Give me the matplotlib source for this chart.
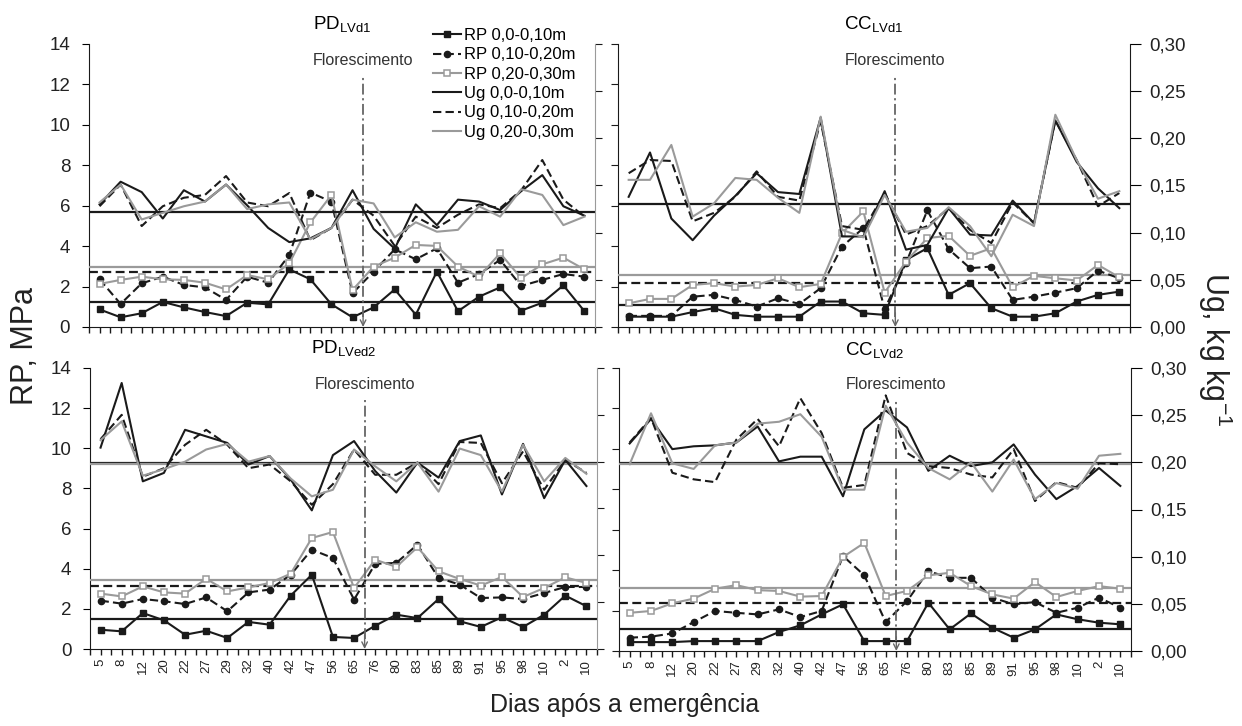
import matplotlib
matplotlib.use('Agg')
from matplotlib import pyplot as plt
from matplotlib.ticker import MultipleLocator, FuncFormatter, NullFormatter
import numpy as np

plt.rcParams['font.family'] = ['Liberation Sans', 'DejaVu Sans']
plt.rcParams['mathtext.fontset'] = 'custom'
plt.rcParams['mathtext.rm'] = 'Liberation Sans'
plt.rcParams['mathtext.it'] = 'Liberation Sans:italic'

# dias apos a emergencia (rotulos do eixo x, como aparecem no grafico)
dias = ['5', '8', '12', '20', '22', '27', '29', '32', '40', '42', '47', '56',
        '65', '76', '80', '83', '85', '89', '91', '95', '98', '10', '2', '10']

# PD LVd1 - RP em MPa, Ug em kg/kg
pd1_rp1 = [0.87, 0.48, 0.68, 1.24, 0.97, 0.74, 0.54, 1.20, 1.12, 2.85, 2.36, 1.12, 0.48, 0.97, 1.86, 0.61, 2.74, 0.78, 1.50, 1.96, 0.81, 1.20, 2.06, 0.78]
pd1_rp2 = [2.36, 1.14, 2.16, 2.49, 2.08, 1.96, 1.34, 2.49, 2.19, 3.56, 6.65, 6.20, 1.67, 2.74, 3.84, 3.35, 3.89, 2.19, 2.62, 3.32, 2.03, 2.33, 2.62, 2.49]
pd1_rp3 = [2.13, 2.33, 2.49, 2.36, 2.33, 2.19, 1.86, 2.57, 2.36, 3.15, 5.17, 6.53, 1.83, 2.99, 3.43, 4.06, 4.01, 2.99, 2.49, 3.65, 2.41, 3.10, 3.43, 2.85]
pd1_ug1 = [0.130, 0.154, 0.143, 0.115, 0.145, 0.133, 0.151, 0.129, 0.105, 0.090, 0.094, 0.105, 0.145, 0.104, 0.083, 0.130, 0.108, 0.135, 0.133, 0.124, 0.144, 0.161, 0.128, 0.118]
pd1_ug2 = [0.128, 0.151, 0.107, 0.128, 0.137, 0.140, 0.160, 0.132, 0.128, 0.142, 0.092, 0.105, 0.135, 0.118, 0.086, 0.117, 0.105, 0.119, 0.130, 0.126, 0.145, 0.177, 0.135, 0.117]
pd1_ug3 = [0.132, 0.151, 0.114, 0.121, 0.128, 0.133, 0.151, 0.125, 0.130, 0.132, 0.093, 0.105, 0.135, 0.131, 0.095, 0.111, 0.101, 0.103, 0.128, 0.117, 0.146, 0.140, 0.108, 0.117]
pd1_med_rp = [1.24, 2.74, 2.99]
pd1_med_ug = [0.122]

# CC LVd1
cc1_rp1 = [0.51, 0.51, 0.51, 0.74, 0.93, 0.60, 0.51, 0.51, 0.51, 1.26, 1.26, 0.68, 0.60, 3.32, 3.90, 1.59, 2.17, 0.93, 0.51, 0.51, 0.68, 1.26, 1.59, 1.75]
cc1_rp2 = [0.55, 0.55, 0.55, 1.50, 1.59, 1.34, 1.01, 1.42, 1.14, 1.92, 3.98, 4.89, 0.88, 3.16, 5.77, 3.85, 2.91, 2.99, 1.34, 1.50, 1.70, 1.92, 2.79, 2.41]
cc1_rp3 = [1.17, 1.39, 1.39, 2.08, 2.17, 2.00, 2.08, 2.41, 1.97, 2.13, 4.64, 5.72, 1.70, 3.24, 4.40, 4.51, 3.52, 3.90, 1.97, 2.53, 2.41, 2.30, 3.07, 2.46]
cc1_ug1 = [0.138, 0.185, 0.115, 0.092, 0.118, 0.139, 0.163, 0.143, 0.141, 0.222, 0.096, 0.096, 0.144, 0.082, 0.087, 0.126, 0.098, 0.097, 0.134, 0.110, 0.219, 0.175, 0.147, 0.126]
cc1_ug2 = [0.163, 0.177, 0.176, 0.112, 0.121, 0.138, 0.165, 0.138, 0.134, 0.218, 0.107, 0.103, 0.142, 0.098, 0.107, 0.126, 0.103, 0.089, 0.132, 0.110, 0.219, 0.177, 0.128, 0.142]
cc1_ug3 = [0.156, 0.156, 0.193, 0.117, 0.131, 0.158, 0.156, 0.137, 0.121, 0.223, 0.103, 0.095, 0.140, 0.101, 0.105, 0.127, 0.107, 0.075, 0.119, 0.107, 0.225, 0.177, 0.136, 0.144]
cc1_med_rp = [1.09, 2.17, 2.58]
cc1_med_ug = [0.130]

# PD LVed2
pd2_rp1 = [0.96, 0.88, 1.79, 1.43, 0.71, 0.91, 0.55, 1.35, 1.21, 2.66, 3.70, 0.60, 0.55, 1.16, 1.71, 1.54, 2.49, 1.38, 1.10, 1.58, 1.10, 1.71, 2.66, 2.13]
pd2_rp2 = [2.41, 2.26, 2.49, 2.38, 2.24, 2.57, 1.88, 2.82, 2.96, 3.70, 4.95, 4.53, 2.46, 4.24, 4.29, 5.20, 3.54, 3.21, 2.54, 2.57, 2.49, 2.79, 3.09, 3.09]
pd2_rp3 = [2.76, 2.62, 3.12, 2.82, 2.76, 3.50, 2.87, 3.07, 3.29, 3.75, 5.53, 5.83, 3.04, 4.45, 4.09, 5.07, 3.87, 3.49, 3.16, 3.59, 2.59, 3.04, 3.57, 3.29]
pd2_ug1 = [0.215, 0.284, 0.179, 0.188, 0.234, 0.227, 0.220, 0.197, 0.206, 0.181, 0.148, 0.207, 0.222, 0.190, 0.167, 0.199, 0.183, 0.222, 0.228, 0.165, 0.219, 0.161, 0.202, 0.174]
pd2_ug2 = [0.224, 0.250, 0.184, 0.193, 0.218, 0.234, 0.218, 0.193, 0.197, 0.179, 0.154, 0.176, 0.213, 0.186, 0.186, 0.199, 0.176, 0.221, 0.220, 0.177, 0.211, 0.170, 0.202, 0.188]
pd2_ug3 = [0.223, 0.243, 0.185, 0.192, 0.200, 0.213, 0.219, 0.200, 0.206, 0.182, 0.163, 0.170, 0.213, 0.195, 0.179, 0.199, 0.168, 0.214, 0.207, 0.168, 0.218, 0.179, 0.204, 0.187]
pd2_med_rp = [1.50, 3.12, 3.46]
pd2_med_ug = [0.199, 0.198]

# CC LVd2
cc2_rp1 = [0.44, 0.44, 0.44, 0.49, 0.49, 0.49, 0.49, 0.94, 1.27, 1.81, 2.31, 0.49, 0.49, 0.49, 2.39, 1.07, 1.86, 1.15, 0.66, 1.07, 1.81, 1.57, 1.40, 1.32]
cc2_rp2 = [0.66, 0.71, 0.87, 1.43, 1.98, 1.89, 1.81, 2.06, 1.68, 1.98, 4.70, 3.74, 1.43, 2.47, 3.95, 3.62, 3.62, 2.64, 2.31, 2.42, 1.89, 2.14, 2.64, 2.14]
cc2_rp3 = [1.89, 1.98, 2.36, 2.59, 3.08, 3.26, 3.01, 2.97, 2.69, 2.72, 4.65, 5.35, 2.72, 2.97, 3.74, 3.87, 3.21, 2.80, 2.59, 3.41, 2.67, 2.97, 3.21, 3.08]
cc2_ug1 = [0.220, 0.246, 0.214, 0.217, 0.218, 0.221, 0.238, 0.201, 0.206, 0.206, 0.164, 0.235, 0.255, 0.237, 0.191, 0.207, 0.196, 0.200, 0.219, 0.187, 0.161, 0.175, 0.194, 0.175]
cc2_ug2 = [0.221, 0.247, 0.189, 0.182, 0.179, 0.224, 0.246, 0.217, 0.268, 0.231, 0.173, 0.176, 0.271, 0.210, 0.196, 0.194, 0.187, 0.184, 0.214, 0.159, 0.179, 0.173, 0.199, 0.198]
cc2_ug3 = [0.198, 0.252, 0.199, 0.193, 0.218, 0.221, 0.241, 0.243, 0.251, 0.227, 0.171, 0.171, 0.260, 0.221, 0.194, 0.182, 0.200, 0.169, 0.203, 0.161, 0.178, 0.172, 0.207, 0.209]
cc2_med_rp = [1.07, 2.36, 3.11]
cc2_med_ug = [0.199, 0.198]

flor = 12.5          # posicao do florescimento (entre 65 e 76 dias)

PRETO = '#1a1a1a'
CINZA = '#9a9a9a'
TRACO = (0, (4, 2))
W, H = 1242, 726

fig = plt.figure(figsize=(W / 100, H / 100), dpi=100)


def caixa(x0, x1, y0, y1):
    # pixels -> fracao da figura
    return [x0 / W, 1 - y1 / H, (x1 - x0) / W, (y1 - y0) / H]


def virgula(v, p):
    return ('%.2f' % v).replace('.', ',')


def painel(pos, titulo, rp, ug, med_rp, med_ug, esquerda, baixo, dy_tit=15):
    ax = fig.add_axes(pos)
    ax2 = ax.twinx()
    x = np.arange(len(dias))

    # medias
    est_rp = [(PRETO, '-'), (PRETO, TRACO), (CINZA, '-')]
    for v, (c, ls) in zip(med_rp, est_rp):
        ax.axhline(v, color=c, ls=ls, lw=1.6, zorder=3)
    est_ug = [PRETO, CINZA]
    for v, c in zip(med_ug, est_ug):
        ax2.axhline(v, color=c, lw=1.6, zorder=1)

    l1, = ax.plot(x, rp[0], color=PRETO, lw=1.5, marker='s', ms=5, label='RP 0,0-0,10m', zorder=4)
    l2, = ax.plot(x, rp[1], color=PRETO, lw=1.5, ls=TRACO, marker='o', ms=4.5, label='RP 0,10-0,20m', zorder=4)
    l3, = ax.plot(x, rp[2], color=CINZA, lw=1.5, marker='s', ms=5, mfc='white', mec=CINZA, mew=1.1,
                  label='RP 0,20-0,30m', zorder=4)
    u1, = ax2.plot(x, ug[0], color=PRETO, lw=1.5, label='Ug 0,0-0,10m')
    u2, = ax2.plot(x, ug[1], color=PRETO, lw=1.5, ls=TRACO, label='Ug 0,10-0,20m')
    u3, = ax2.plot(x, ug[2], color=CINZA, lw=1.5, label='Ug 0,20-0,30m')

    # florescimento
    ax.plot([flor, flor], [0.5, 12.4], color='#666666', lw=1.3, ls=(0, (6, 2, 1.2, 2)), zorder=5)
    ax.annotate('', xy=(flor, 0), xytext=(flor, 0.7),
                arrowprops=dict(arrowstyle='->', color='#666666', lw=1, shrinkA=0, shrinkB=0))
    ax.text(flor, 13.2, 'Florescimento', ha='center', va='center', fontsize=11.5, color='#333333')

    ax.set_xlim(-0.5, len(dias) - 0.5)
    ax.set_ylim(0, 14)
    ax2.set_ylim(0, 0.30)
    ax.yaxis.set_major_locator(MultipleLocator(2))
    ax2.yaxis.set_major_locator(MultipleLocator(0.05))
    ax2.yaxis.set_major_formatter(FuncFormatter(virgula))

    ax.set_xticks(x)
    ax.set_xticks(np.arange(-0.5, len(dias)), minor=True)
    ax.tick_params(axis='x', which='both', direction='out', length=4, width=1, color=PRETO)
    if baixo:
        ax.set_xticklabels(dias, rotation=90, fontsize=9.5, color='#222222')
        ax.tick_params(axis='x', pad=3)
    else:
        ax.set_xticklabels([])

    ax.spines['top'].set_visible(False)
    ax.spines['right'].set_visible(False)
    ax2.spines['top'].set_visible(False)
    ax2.spines['left'].set_visible(False)
    ax2.spines['bottom'].set_visible(False)
    ax.spines['bottom'].set_color(PRETO)
    ax.spines['left'].set_color(PRETO)

    if esquerda:
        ax.tick_params(axis='y', direction='out', length=5, labelsize=13.5, pad=8.5, labelcolor='#222222')
        ax2.spines['right'].set_color(CINZA)
        ax2.tick_params(axis='y', direction='out', length=5, color=PRETO)
        ax2.yaxis.set_major_formatter(NullFormatter())
    else:
        ax.tick_params(axis='y', direction='out', length=5, color=PRETO)
        ax.yaxis.set_major_formatter(NullFormatter())
        ax2.spines['right'].set_color(PRETO)
        ax2.tick_params(axis='y', direction='out', length=8, labelsize=13.5, pad=6, labelcolor='#222222')

    # titulo do painel
    b = ax.get_position()
    fig.text((b.x0 + b.x1) / 2, b.y1 + dy_tit / H, titulo, ha='center', va='baseline', fontsize=13.5)
    return [l1, l2, l3, u1, u2, u3]


linhas = painel(caixa(89, 595, 44, 327), r'PD$_{\mathregular{LVd1}}$',
                [pd1_rp1, pd1_rp2, pd1_rp3], [pd1_ug1, pd1_ug2, pd1_ug3], pd1_med_rp, pd1_med_ug, True, False)
painel(caixa(618, 1130, 44, 327), r'CC$_{\mathregular{LVd1}}$',
       [cc1_rp1, cc1_rp2, cc1_rp3], [cc1_ug1, cc1_ug2, cc1_ug3], cc1_med_rp, cc1_med_ug, False, False)
painel(caixa(90, 597, 368, 649), r'PD$_{\mathregular{LVed2}}$',
       [pd2_rp1, pd2_rp2, pd2_rp3], [pd2_ug1, pd2_ug2, pd2_ug3], pd2_med_rp, pd2_med_ug, True, True)
painel(caixa(619, 1131, 368, 651), r'CC$_{\mathregular{LVd2}}$',
       [cc2_rp1, cc2_rp2, cc2_rp3], [cc2_ug1, cc2_ug2, cc2_ug3], cc2_med_rp, cc2_med_ug, False, True, 13)

fig.legend(handles=linhas, labels=[l.get_label() for l in linhas], loc='upper left',
           bbox_to_anchor=(433 / W, 1 - 28 / H), frameon=False, fontsize=12, handlelength=1.7,
           handletextpad=0.15, labelspacing=0.26, borderpad=0, borderaxespad=0, numpoints=1)

fig.text(25 / W, 1 - 346 / H, 'RP, MPa', rotation=90, ha='center', va='center', fontsize=22, color='#222222')
fig.text(1215 / W, 1 - 349 / H, r'Ug, kg kg$^{\mathregular{-1}}$', rotation=270, ha='center', va='center',
         fontsize=22, color='#222222')
fig.text(625 / W, 1 - 705 / H, 'Dias após a emergência', ha='center', va='center', fontsize=18, color='#222222')

fig.savefig('out.png', dpi=100)
